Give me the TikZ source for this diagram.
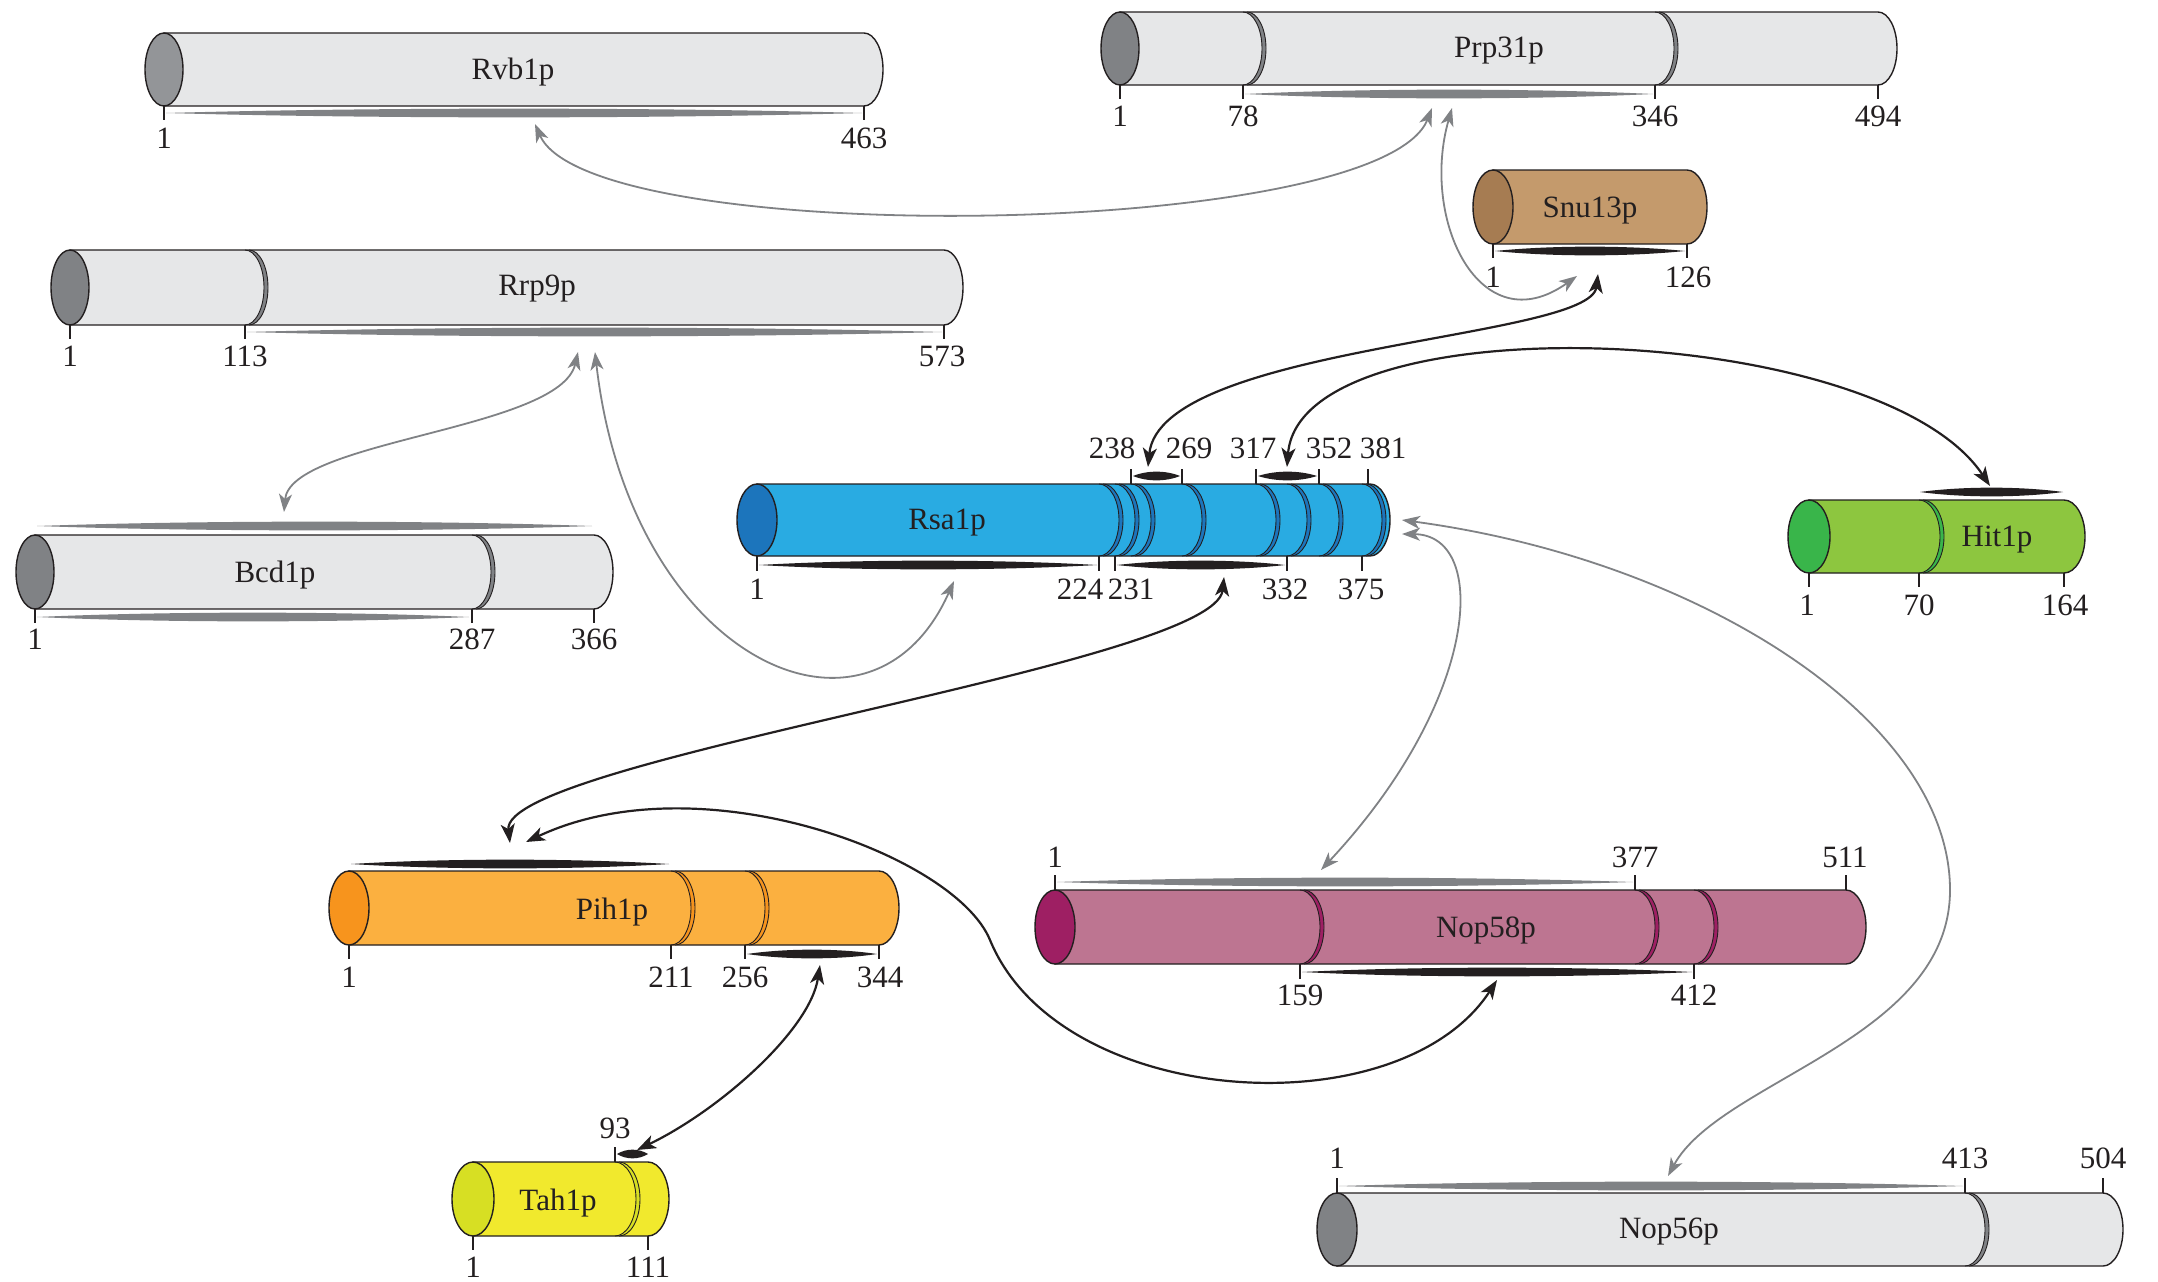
\documentclass[tikz,border=0pt]{standalone}
\usepackage{fontspec}
\setmainfont{Liberation Serif}
\usetikzlibrary{arrows.meta}
\definecolor{outl}{HTML}{231F20}
\definecolor{lgray}{HTML}{E6E7E8}
\definecolor{gcap}{HTML}{808285}
\definecolor{gcapl}{HTML}{939598}
\definecolor{gbar}{HTML}{808285}
\definecolor{rsaB}{HTML}{29ABE2}
\definecolor{rsaC}{HTML}{1C75BC}
\definecolor{snuB}{HTML}{C49A6C}
\definecolor{snuC}{HTML}{A67C52}
\definecolor{hitB}{HTML}{8DC63F}
\definecolor{hitC}{HTML}{39B54A}
\definecolor{pihB}{HTML}{FBB040}
\definecolor{pihC}{HTML}{F7941D}
\definecolor{nopB}{HTML}{BD7591}
\definecolor{nopC}{HTML}{9E1F63}
\definecolor{tahB}{HTML}{F1E92D}
\definecolor{tahC}{HTML}{D7DF23}
\tikzset{
  num/.style={font=\fontsize{31}{31}\selectfont, text=outl, inner sep=0pt, anchor=center},
  pname/.style={font=\fontsize{31}{31}\selectfont, text=outl, inner sep=0pt, anchor=center},
  tickln/.style={draw=outl, line width=1.1pt},
  cylo/.style={draw=outl, line width=1.4pt},
  divl/.style={draw=outl, line width=0.9pt},
  conb/.style={draw=outl, line width=2.2pt,
    {Stealth[length=19pt,width=14pt,inset=5pt]}-{Stealth[length=19pt,width=14pt,inset=5pt]}},
  cong/.style={draw=gbar, line width=1.8pt,
    {Stealth[length=18pt,width=13pt,inset=5pt]}-{Stealth[length=18pt,width=13pt,inset=5pt]}},
}
% cylinder: xl xr ytop ybot rx body cap
\newcommand\PCyl[7]{%
  \pgfmathsetmacro\cyM{(#3+#4)/2}%
  \pgfmathsetmacro\cyR{(#4-#3)/2}%
  \pgfmathsetmacro\cyQ{0.5523*\cyR}%
  \pgfmathsetmacro\cyX{#2+#5}%
  \pgfmathsetmacro\cyC{#2+0.5523*#5}%
  \pgfmathsetmacro\cyU{\cyM-\cyQ}%
  \pgfmathsetmacro\cyV{\cyM+\cyQ}%
  \filldraw[fill=#6,cylo] (#1,#3) -- (#2,#3) .. controls (\cyC,#3) and (\cyX,\cyU) .. (\cyX,\cyM)
     .. controls (\cyX,\cyV) and (\cyC,#4) .. (#2,#4) -- (#1,#4) -- cycle;
  \filldraw[fill=#7,cylo] (#1,\cyM) ellipse[x radius=#5,y radius=\cyR];
}
% divider ring: x ytop ybot rx color
\newcommand\PDiv[5]{%
  \pgfmathsetmacro\dvM{(#2+#3)/2}%
  \pgfmathsetmacro\dvQ{0.5523*(#3-#2)/2}%
  \pgfmathsetmacro\dvU{\dvM-\dvQ}%
  \pgfmathsetmacro\dvV{\dvM+\dvQ}%
  \pgfmathsetmacro\dvXa{#1+#4}%
  \pgfmathsetmacro\dvCa{#1+0.5523*#4}%
  \pgfmathsetmacro\dvB{#1+4}%
  \pgfmathsetmacro\dvXb{#1+4+#4}%
  \pgfmathsetmacro\dvCb{#1+4+0.5523*#4}%
  \fill[#5] (#1,#2) .. controls (\dvCa,#2) and (\dvXa,\dvU) .. (\dvXa,\dvM)
     .. controls (\dvXa,\dvV) and (\dvCa,#3) .. (#1,#3) -- (\dvB,#3)
     .. controls (\dvCb,#3) and (\dvXb,\dvV) .. (\dvXb,\dvM)
     .. controls (\dvXb,\dvU) and (\dvCb,#2) .. (\dvB,#2) -- cycle;
  \draw[divl] (#1,#2) .. controls (\dvCa,#2) and (\dvXa,\dvU) .. (\dvXa,\dvM)
     .. controls (\dvXa,\dvV) and (\dvCa,#3) .. (#1,#3);
  \draw[divl] (\dvB,#2) .. controls (\dvCb,#2) and (\dvXb,\dvU) .. (\dvXb,\dvM)
     .. controls (\dvXb,\dvV) and (\dvCb,#3) .. (\dvB,#3);
}
% lens bar: xa xb y color
\newcommand\PLens[4]{%
  \pgfmathsetmacro\lnA{#1+0.3*(#2-#1)}%
  \pgfmathsetmacro\lnB{#2-0.3*(#2-#1)}%
  \pgfmathsetmacro\lnU{#3-5.8}%
  \pgfmathsetmacro\lnV{#3+5.8}%
  \fill[#4] (#1,#3) .. controls (\lnA,\lnU) and (\lnB,\lnU) .. (#2,#3)
     .. controls (\lnB,\lnV) and (\lnA,\lnV) .. (#1,#3) -- cycle;
}
\newcommand\PTick[3]{\draw[tickln] (#1,#2) -- (#1,#3);}
\begin{document}
\begin{tikzpicture}[x=1pt,y=-1pt]
\fill[white] (0,0) rectangle (2158,1282);
\useasboundingbox (0,0) rectangle (2158,1282);

% ---------- Rvb1p
\PCyl{164}{864}{33}{106}{19}{lgray}{gcapl}
\PLens{166}{862}{113}{gbar}
\PTick{164}{106}{120}\PTick{864}{106}{120}
\node[pname] (rvb1p) at (513,72) {Rvb1p};
\node[num] (rvb-n1) at (164,138) {1};
\node[num] (rvb-n463) at (864,138) {463};

% ---------- Prp31p
\PCyl{1120}{1878}{12}{85}{19}{lgray}{gcap}
\PDiv{1243}{12}{85}{19}{gcap}
\PDiv{1655}{12}{85}{19}{gcap}
\PLens{1245}{1653}{94}{gbar}
\PTick{1120}{85}{99}\PTick{1243}{85}{99}\PTick{1655}{85}{99}\PTick{1878}{85}{99}
\node[pname] (prp31p) at (1499,51) {Prp31p};
\node[num] (prp-n1) at (1120,116) {1};
\node[num] (prp-n78) at (1243,116) {78};
\node[num] (prp-n346) at (1655,116) {346};
\node[num] (prp-n494) at (1878,116) {494};

% ---------- Snu13p
\PCyl{1493}{1687}{170}{244}{20}{snuB}{snuC}
\PLens{1495}{1685}{251}{outl}
\PTick{1493}{244}{258}\PTick{1687}{244}{258}
\node[pname] (snu13p) at (1590,211) {Snu13p};
\node[num] (snu-n1) at (1493,277) {1};
\node[num] (snu-n126) at (1688,277) {126};

% ---------- Rrp9p
\PCyl{70}{944}{250}{325}{19}{lgray}{gcap}
\PDiv{245}{250}{325}{19}{gcap}
\PLens{247}{942}{332}{gbar}
\PTick{70}{325}{339}\PTick{245}{325}{339}\PTick{944}{325}{339}
\node[pname] (rrp9p) at (537,289) {Rrp9p};
\node[num] (rrp-n1) at (70,356) {1};
\node[num] (rrp-n113) at (245,356) {113};
\node[num] (rrp-n573) at (942,356) {573};

% ---------- Bcd1p
\PCyl{35}{594}{535}{609}{19}{lgray}{gcap}
\PDiv{472}{535}{609}{19}{gcap}
\PLens{37}{592}{526}{gbar}
\PLens{37}{469}{617}{gbar}
\PTick{35}{609}{623}\PTick{472}{609}{623}\PTick{594}{609}{623}
\node[pname] (bcd1p) at (275,575) {Bcd1p};
\node[num] (bcd-n1) at (35,639) {1};
\node[num] (bcd-n287) at (472,639) {287};
\node[num] (bcd-n366) at (594,639) {366};

% ---------- Rsa1p
\PCyl{757}{1370}{484}{556}{20}{rsaB}{rsaC}
\foreach \dx in {1099,1115,1131,1182,1256,1287,1319,1362}{\PDiv{\dx}{484}{556}{20}{rsaC}}
\PLens{759}{1097}{565}{outl}
\PLens{1117}{1285}{565}{outl}
\PLens{1133}{1180}{476}{outl}
\PLens{1258}{1317}{476}{outl}
\foreach \dx in {757,1099,1115,1287,1362}{\PTick{\dx}{556}{571}}
\foreach \dx in {1131,1182,1256,1319,1368}{\PTick{\dx}{484}{469}}
\node[pname] (rsa1p) at (947,523) {Rsa1p};
\node[num] (rsa-n1) at (757,589) {1};
\node[num] (rsa-n224) at (1080,589) {224};
\node[num] (rsa-n231) at (1131,589) {231};
\node[num] (rsa-n332) at (1285,589) {332};
\node[num] (rsa-n375) at (1361,589) {375};
\node[num] (rsa-n238) at (1112,448) {238};
\node[num] (rsa-n269) at (1189,448) {269};
\node[num] (rsa-n317) at (1253,448) {317};
\node[num] (rsa-n352) at (1329,448) {352};
\node[num] (rsa-n381) at (1383,448) {381};

% ---------- Hit1p
\PCyl{1809}{2064}{500}{573}{21}{hitB}{hitC}
\PDiv{1919}{500}{573}{21}{hitC}
\PLens{1920}{2063}{492}{outl}
\PTick{1809}{573}{587}\PTick{1919}{573}{587}\PTick{2064}{573}{587}
\node[pname] (hit1p) at (1997,540) {Hit1p};
\node[num] (hit-n1) at (1807,605) {1};
\node[num] (hit-n70) at (1919,605) {70};
\node[num] (hit-n164) at (2065,605) {164};

% ---------- Pih1p
\PCyl{349}{879}{871}{945}{20}{pihB}{pihC}
\PDiv{671}{871}{945}{20}{pihC}
\PDiv{745}{871}{945}{20}{pihC}
\PLens{351}{669}{864}{outl}
\PLens{747}{877}{954}{outl}
\PTick{349}{945}{959}\PTick{671}{945}{959}\PTick{745}{945}{959}\PTick{879}{945}{959}
\node[pname] (pih1p) at (612,912) {Pih1p};
\node[num] (pih-n1) at (349,977) {1};
\node[num] (pih-n211) at (671,977) {211};
\node[num] (pih-n256) at (745,977) {256};
\node[num] (pih-n344) at (880,977) {344};

% ---------- Nop58p
\PCyl{1055}{1846}{890}{964}{20}{nopB}{nopC}
\PDiv{1300}{890}{964}{20}{nopC}
\PDiv{1635}{890}{964}{20}{nopC}
\PDiv{1694}{890}{964}{20}{nopC}
\PLens{1057}{1633}{882}{gbar}
\PLens{1302}{1692}{972}{outl}
\PTick{1055}{890}{875}\PTick{1635}{890}{875}\PTick{1846}{890}{875}
\PTick{1300}{964}{979}\PTick{1694}{964}{979}
\node[pname] (nop58p) at (1486,930) {Nop58p};
\node[num] (nop58-n1) at (1055,857) {1};
\node[num] (nop58-n377) at (1635,857) {377};
\node[num] (nop58-n511) at (1845,857) {511};
\node[num] (nop58-n159) at (1300,995) {159};
\node[num] (nop58-n412) at (1694,995) {412};

% ---------- Tah1p
\PCyl{473}{648}{1162}{1236}{21}{tahB}{tahC}
\PDiv{615}{1162}{1236}{21}{tahC}
\PLens{617}{648}{1154}{outl}
\PTick{615}{1162}{1147}
\PTick{473}{1236}{1250}\PTick{648}{1236}{1250}
\node[pname] (tah1p) at (558,1203) {Tah1p};
\node[num] (tah-n93) at (615,1128) {93};
\node[num] (tah-n1) at (473,1267) {1};
\node[num] (tah-n111) at (648,1267) {111};

% ---------- Nop56p
\PCyl{1337}{2103}{1193}{1266}{20}{lgray}{gcap}
\PDiv{1965}{1193}{1266}{20}{gcap}
\PLens{1339}{1963}{1186}{gbar}
\PTick{1337}{1193}{1178}\PTick{1965}{1193}{1178}\PTick{2103}{1193}{1178}
\node[pname] (nop56p) at (1669,1232) {Nop56p};
\node[num] (nop56-n1) at (1337,1158) {1};
\node[num] (nop56-n413) at (1965,1158) {413};
\node[num] (nop56-n504) at (2103,1158) {504};

% ---------- connector ends
\coordinate (rvb-e) at (535,124);
\coordinate (prp-e1) at (1432,108);
\coordinate (prp-e2) at (1452,108);
\coordinate (snu-e1) at (1577,276);
\coordinate (snu-e2) at (1598,274);
\coordinate (rsa-e238) at (1148,467);
\coordinate (rsa-e317) at (1287,467);
\coordinate (hit-e) at (1990,486);
\coordinate (rsa-e231) at (1224,577);
\coordinate (pih-e1) at (510,843);
\coordinate (pih-e2) at (526,842);
\coordinate (nop58-eb) at (1497,980);
\coordinate (pih-e3) at (820,965);
\coordinate (tah-e) at (637,1150);
\coordinate (rrp-e1) at (578,352);
\coordinate (bcd-e) at (284,512);
\coordinate (rrp-e2) at (595,352);
\coordinate (rsa-e1) at (954,581);
\coordinate (rsa-er1) at (1402,534);
\coordinate (nop58-et) at (1321,870);
\coordinate (rsa-er2) at (1402,520);
\coordinate (nop56-e) at (1668,1176);

% ---------- connectors
\draw[cong] (rvb-e) .. controls (590,250) and (1380,240) .. (prp-e1);
\draw[cong] (prp-e2) .. controls (1420,220) and (1480,345) .. (snu-e1);
\draw[conb] (snu-e2) .. controls (1590,340) and (1160,345) .. (rsa-e238);
\draw[conb] (rsa-e317) .. controls (1300,300) and (1880,320) .. (hit-e);
\draw[conb] (rsa-e231) .. controls (1215,665) and (500,760) .. (pih-e1);
\draw[conb] (pih-e2) .. controls (700,760) and (955,855) .. (990,940)
   .. controls (1060,1110) and (1400,1130) .. (nop58-eb);
\draw[conb] (pih-e3) .. controls (810,1030) and (720,1110) .. (tah-e);
\draw[cong] (rrp-e1) .. controls (560,430) and (290,440) .. (bcd-e);
\draw[cong] (rrp-e2) .. controls (630,660) and (870,770) .. (rsa-e1);
\draw[cong] (rsa-er1) .. controls (1490,535) and (1480,700) .. (nop58-et);
\draw[cong] (rsa-er2) .. controls (1700,560) and (1950,720) .. (1950,890)
   .. controls (1950,1040) and (1720,1080) .. (nop56-e);
\end{tikzpicture}
\end{document}
